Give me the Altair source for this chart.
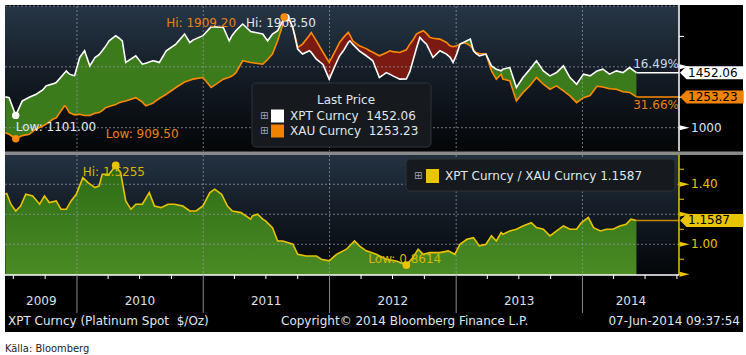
import altair as alt
import pandas as pd

FONT = "DejaVu Sans"

# ---------------- data ----------------
top_dates = [
    "2009-06-08", "2009-06-19", "2009-07-08", "2009-07-27", "2009-08-16", "2009-09-05", "2009-09-24",
    "2009-10-04", "2009-10-23", "2009-11-02", "2009-11-26", "2009-12-01", "2009-12-10", "2009-12-25",
    "2010-01-09", "2010-01-23", "2010-02-07", "2010-02-22", "2010-03-06", "2010-03-15", "2010-03-25",
    "2010-04-04", "2010-04-23", "2010-05-03", "2010-05-12", "2010-05-22", "2010-06-20", "2010-07-09",
    "2010-07-19", "2010-08-08", "2010-08-17", "2010-08-27", "2010-09-16", "2010-10-14", "2010-11-08",
    "2010-11-23", "2010-12-02", "2010-12-31", "2011-01-24", "2011-02-28", "2011-03-17", "2011-03-26",
    "2011-04-05", "2011-04-25", "2011-05-18", "2011-06-22", "2011-07-06", "2011-07-20", "2011-08-04",
    "2011-08-19", "2011-08-23", "2011-08-28", "2011-09-08", "2011-09-17", "2011-09-22", "2011-10-01",
    "2011-10-15", "2011-11-04", "2011-11-09", "2011-11-24", "2011-12-13", "2011-12-31", "2012-01-21",
    "2012-01-30", "2012-02-10", "2012-02-24", "2012-02-29", "2012-03-08", "2012-03-27", "2012-04-16",
    "2012-04-26", "2012-05-05", "2012-05-24", "2012-06-13", "2012-06-23", "2012-07-02", "2012-07-22",
    "2012-08-10", "2012-08-20", "2012-08-29", "2012-09-08", "2012-09-18", "2012-09-28", "2012-10-07",
    "2012-10-17", "2012-10-26", "2012-11-15", "2012-12-04", "2012-12-14", "2012-12-23", "2013-01-02",
    "2013-01-12", "2013-01-22", "2013-02-01", "2013-02-11", "2013-02-20", "2013-02-27", "2013-03-09",
    "2013-03-28", "2013-04-13", "2013-04-27", "2013-05-11", "2013-05-16", "2013-06-05", "2013-06-24",
    "2013-07-13", "2013-08-02", "2013-08-21", "2013-09-10", "2013-09-29", "2013-10-18", "2013-11-07",
    "2013-11-26", "2013-12-15", "2014-01-04", "2014-01-23", "2014-02-12", "2014-03-01", "2014-03-20",
    "2014-04-09", "2014-04-28", "2014-05-17", "2014-06-06",
]
xpt_values = [
    1253, 1247, 1101, 1220, 1250, 1275, 1310,
    1344, 1360, 1371, 1450, 1467, 1440, 1426,
    1577, 1632, 1508, 1577, 1600, 1632, 1670,
    1714, 1756, 1735, 1714, 1536, 1591, 1522,
    1530, 1550, 1545, 1536, 1632, 1687, 1770,
    1700, 1720, 1756, 1830, 1824, 1714, 1760,
    1797, 1852, 1790, 1770, 1714, 1770, 1797,
    1880, 1895, 1903.5, 1879, 1824, 1760, 1646,
    1605, 1632, 1620, 1563, 1520, 1399, 1536,
    1590, 1632, 1700, 1714, 1687, 1632, 1591,
    1570, 1550, 1412, 1453, 1440, 1426, 1399,
    1399.5, 1460, 1550, 1650, 1742, 1710, 1687,
    1630, 1577, 1632, 1605, 1580, 1536, 1600,
    1687, 1700, 1714, 1728, 1632, 1610, 1591,
    1605, 1508, 1481, 1467, 1481, 1494, 1330,
    1412, 1481, 1550, 1467, 1426, 1453, 1508,
    1412, 1357, 1440, 1426, 1467, 1481, 1440,
    1467, 1453, 1494, 1452.06,
]
xau_values = [
    959, 946, 909.5, 935, 946, 990, 1014,
    1030, 1069, 1080, 1179, 1170, 1124, 1105,
    1110, 1100, 1100, 1118, 1124, 1140, 1165,
    1175, 1190, 1206, 1214, 1220, 1247, 1210,
    1179, 1200, 1220, 1240, 1275, 1330, 1375,
    1390, 1399, 1412, 1330, 1399, 1415, 1426,
    1450, 1550, 1536, 1522, 1560, 1605, 1714,
    1850, 1909.2, 1895, 1893, 1810, 1770, 1659,
    1687, 1760, 1783, 1714, 1620, 1536, 1650,
    1700, 1740, 1783, 1760, 1714, 1673, 1650,
    1632, 1620, 1591, 1615, 1632, 1625, 1618,
    1640, 1687, 1720, 1770, 1785, 1797, 1775,
    1742, 1735, 1728, 1700, 1673, 1665, 1673,
    1685, 1700, 1690, 1673, 1640, 1618, 1610,
    1605, 1467, 1399, 1440, 1399, 1385, 1220,
    1288, 1344, 1412, 1357, 1316, 1344, 1302,
    1261, 1206, 1247, 1265, 1340, 1335, 1320,
    1316, 1295, 1290, 1253.23,
]

ratio_dates = [
    "2009-06-08", "2009-06-12", "2009-06-24", "2009-07-08", "2009-07-22", "2009-08-06", "2009-08-26",
    "2009-09-15", "2009-09-29", "2009-10-13", "2009-11-02", "2009-11-16", "2009-12-01", "2009-12-15",
    "2009-12-30", "2010-01-18", "2010-02-02", "2010-02-22", "2010-03-06", "2010-03-15", "2010-04-04",
    "2010-04-23", "2010-05-07", "2010-05-22", "2010-06-06", "2010-06-20", "2010-07-09", "2010-07-29",
    "2010-08-13", "2010-09-01", "2010-09-21", "2010-10-10", "2010-11-03", "2010-11-23", "2010-12-11",
    "2010-12-31", "2011-01-20", "2011-02-03", "2011-02-23", "2011-03-12", "2011-03-26", "2011-04-20",
    "2011-05-18", "2011-05-23", "2011-06-07", "2011-06-22", "2011-06-30", "2011-07-20", "2011-08-04",
    "2011-08-19", "2011-09-17", "2011-10-01", "2011-10-25", "2011-11-24", "2011-12-08", "2011-12-31",
    "2012-01-21", "2012-02-19", "2012-03-13", "2012-03-27", "2012-04-16", "2012-05-15", "2012-06-13",
    "2012-07-12", "2012-08-10", "2012-08-29", "2012-09-13", "2012-09-28", "2012-10-17", "2012-11-15",
    "2012-12-09", "2012-12-28", "2013-01-12", "2013-02-01", "2013-02-20", "2013-03-09", "2013-03-28",
    "2013-04-13", "2013-04-27", "2013-05-11", "2013-05-16", "2013-06-05", "2013-06-24", "2013-07-13",
    "2013-08-06", "2013-08-21", "2013-09-10", "2013-09-29", "2013-10-18", "2013-11-07", "2013-11-26",
    "2013-12-15", "2013-12-29", "2014-01-18", "2014-02-02", "2014-02-22", "2014-03-11", "2014-03-30",
    "2014-04-19", "2014-05-07", "2014-05-21", "2014-06-06",
]
ratio_values = [
    1.333, 1.338, 1.267, 1.222, 1.255, 1.333, 1.322,
    1.267, 1.322, 1.278, 1.289, 1.233, 1.233, 1.289,
    1.333, 1.444, 1.411, 1.378, 1.389, 1.467, 1.467,
    1.5255, 1.478, 1.289, 1.233, 1.267, 1.267, 1.344,
    1.255, 1.244, 1.267, 1.267, 1.255, 1.222, 1.222,
    1.255, 1.344, 1.367, 1.333, 1.255, 1.222, 1.211,
    1.167, 1.189, 1.200, 1.167, 1.156, 1.111, 1.022,
    1.022, 1.000, 0.933, 0.922, 0.922, 0.900, 0.889,
    0.933, 0.967, 1.022, 0.989, 0.956, 0.933, 0.900,
    0.889, 0.8614, 0.911, 0.967, 0.933, 0.944, 0.944,
    0.956, 0.933, 1.000, 1.033, 1.044, 0.989, 1.000,
    1.056, 1.022, 1.078, 1.067, 1.089, 1.100, 1.122,
    1.144, 1.111, 1.100, 1.056, 1.089, 1.122, 1.100,
    1.100, 1.144, 1.178, 1.111, 1.089, 1.100, 1.100,
    1.122, 1.133, 1.167, 1.1587,
]

top_grid_values = [1000, 1500, 2000]
top_major_ticks = [1000, 1500]
top_minor_ticks = [1250, 1750]
top_axis_labels = [1000]
bot_grid_values = [1.0, 1.2, 1.4]
bot_major_ticks = [0.8, 1.0, 1.2, 1.4]
bot_minor_ticks = [0.9, 1.1, 1.3, 1.5]
bot_axis_labels = [1.0, 1.4]
year_starts = ["2010-01-01", "2011-01-01", "2012-01-01", "2013-01-01", "2014-01-01"]
quarter_ticks = [
    "2009-07-01", "2009-10-01", "2010-04-01", "2010-07-01", "2010-10-01", "2011-04-01",
    "2011-07-01", "2011-10-01", "2012-04-01", "2012-07-01", "2012-10-01", "2013-04-01",
    "2013-07-01", "2013-10-01", "2014-04-01", "2014-07-01", "2014-10-01",
]
year_labels = ["2009", "2010", "2011", "2012", "2013", "2014"]
year_label_dates = ["2009-09-20", "2010-07-02", "2011-07-02", "2012-07-02", "2013-07-02", "2014-05-21"]
xpt_change = "16.49%"
xau_change = "31.66%"

# ---------------- frames ----------------
top_df = pd.DataFrame({"date": top_dates, "xpt": xpt_values, "xau": xau_values})
ratio_df = pd.DataFrame({"date": ratio_dates, "ratio": ratio_values})
one = pd.DataFrame({"k": [0]})

W = 674
H_TOP = 145
H_BOT = 120

xscale = alt.Scale(domain=[alt.DateTime(year=2009, month=6, date=7, utc=True),
                           alt.DateTime(year=2014, month=10, date=7, utc=True)], nice=False)
ytop = alt.Scale(domain=[808.5, 2000], zero=False, nice=False)
ybot = alt.Scale(domain=[0.795, 1.595], zero=False, nice=False)


def xd(field="date"):
    return alt.X(f"{field}:T", scale=xscale, axis=None)


def yt(field):
    return alt.Y(f"{field}:Q", scale=ytop, axis=None, stack=None)


def yb(field):
    return alt.Y(f"{field}:Q", scale=ybot, axis=None, stack=None)


def rect(x, x2, y, y2, **kw):
    return alt.Chart(one).mark_rect(**kw).encode(
        x=alt.value(x), x2=alt.value(x2), y=alt.value(y), y2=alt.value(y2))


def label(txt, x, y, **kw):
    p = dict(font=FONT, fontSize=12, baseline="middle", align="left", color="#dfe7ef")
    p.update(kw)
    return alt.Chart(one).mark_text(text=txt, **p).encode(x=alt.value(x), y=alt.value(y))


def grad(stops):
    return alt.LinearGradient(gradient="linear", x1=0, y1=0, x2=0, y2=1,
                              stops=[alt.GradientStop(offset=o, color=c) for o, c in stops])


GRID = dict(color="#8d97a1", strokeDash=[2, 2], strokeWidth=1, opacity=0.75)
TAG_PATH = "M -1 0 L 0 -1 L 8.8 -1 L 8.8 1 L 0 1 Z"
WEDGE = "M 0 -0.5 L 2 0 L 0 0.5 Z"

last = top_df.iloc[[-1]].reset_index(drop=True)
rlast = ratio_df.iloc[[-1]].reset_index(drop=True)


def extreme(df, col, fn, prefix, fmt):
    i = getattr(df[col], fn)()
    v = df[col][i]
    return pd.DataFrame({"date": [df["date"][i]], "v": [v], "label": [prefix + fmt.format(v)]})


xpt_lo = extreme(top_df, "xpt", "idxmin", "Low: ", "{:.2f}")
xau_lo = extreme(top_df, "xau", "idxmin", "Low: ", "{:.2f}")
xpt_hi = extreme(top_df, "xpt", "idxmax", "Hi: ", "{:.2f}")
xau_hi = extreme(top_df, "xau", "idxmax", "Hi: ", "{:.2f}")
r_hi = extreme(ratio_df, "ratio", "idxmax", "Hi: ", "{:.4f}")
r_lo = extreme(ratio_df, "ratio", "idxmin", "Low: ", "{:.4f}")

WHITE_T = "#e2e9f1"
ORANGE_L = "#ff8a00"
ORANGE_T = "#ec8210"
YELLOW = "#e9c400"

# ---------------- top panel ----------------
base_top = alt.Chart(top_df).transform_calculate(hi="max(datum.xpt, datum.xau)")

top_layers = [
    rect(0, 738, -1, 326, fill="#000000"),
    rect(0, 738, 145.5, 149, fill="#8a8a8a"),
    rect(0, W, 0, H_TOP, fill=grad([(0, "#263646"), (0.5, "#131b24"), (1, "#040608")])),
    base_top.mark_area(color="#3b7b1c").encode(x=xd(), y=yt("xau"), y2="hi:Q"),
    base_top.mark_area(color="#7b1a12").encode(x=xd(), y=yt("xpt"), y2="hi:Q"),
    alt.Chart(pd.DataFrame({"v": top_grid_values})).mark_rule(**GRID).encode(
        y=yt("v"), x=alt.value(0), x2=alt.value(W)),
    alt.Chart(pd.DataFrame({"date": year_starts})).mark_rule(**GRID).encode(
        x=xd(), y=alt.value(0), y2=alt.value(H_TOP)),
    alt.Chart(top_df).mark_line(color=ORANGE_L, strokeWidth=1.6).encode(x=xd(), y=yt("xau")),
    alt.Chart(top_df).mark_line(color="#ffffff", strokeWidth=1.6).encode(x=xd(), y=yt("xpt")),
    alt.Chart(last).mark_rule(color="#ffffff", strokeWidth=1.5).encode(
        x=xd(), x2=alt.value(W), y=yt("xpt")),
    alt.Chart(last).mark_rule(color=ORANGE_L, strokeWidth=1.5).encode(
        x=xd(), x2=alt.value(W), y=yt("xau")),
    alt.Chart(one).mark_rule(color="#ffffff", strokeWidth=1.5).encode(
        x=alt.value(W), y=alt.value(-1), y2=alt.value(H_TOP)),
    alt.Chart(pd.DataFrame({"v": top_major_ticks})).mark_point(
        shape=WEDGE, size=100, filled=True, color="#ffffff", opacity=1).encode(
        x=alt.value(W + 0.5), y=yt("v")),
    alt.Chart(pd.DataFrame({"v": top_minor_ticks})).mark_rule(color="#ffffff").encode(
        x=alt.value(W), x2=alt.value(W + 5), y=yt("v")),
    alt.Chart(pd.DataFrame({"v": top_axis_labels})).mark_text(
        font=FONT, fontSize=12, align="left", baseline="middle", color="#dbe6f2").encode(
        x=alt.value(686), y=yt("v"), text=alt.Text("v:Q", format="d")),
    # last value tags
    alt.Chart(last).mark_point(shape=TAG_PATH, size=169, filled=True, color="#ffffff", opacity=1).encode(
        x=alt.value(681.5), y=yt("xpt")),
    alt.Chart(last).mark_text(font=FONT, fontSize=12, align="left", baseline="middle", color="#000000").encode(
        x=alt.value(683), y=yt("xpt"), text=alt.Text("xpt:Q", format=".2f")),
    alt.Chart(last).mark_point(shape=TAG_PATH, size=169, filled=True, color="#f38200", opacity=1).encode(
        x=alt.value(681.5), y=yt("xau")),
    alt.Chart(last).mark_text(font=FONT, fontSize=12, align="left", baseline="middle", color="#000000").encode(
        x=alt.value(683), y=yt("xau"), text=alt.Text("xau:Q", format=".2f")),
    # change labels
    alt.Chart(last).mark_text(text=xpt_change, font=FONT, fontSize=12, align="right", baseline="middle",
                              dy=-9, color="#cbd7e3").encode(x=alt.value(W), y=yt("xpt")),
    alt.Chart(last).mark_text(text=xau_change, font=FONT, fontSize=12, align="right", baseline="middle",
                              dy=8.5, color=ORANGE_T).encode(x=alt.value(W), y=yt("xau")),
    # hi / low annotations
    alt.Chart(xpt_lo).mark_text(font=FONT, fontSize=12, align="left", baseline="middle", dx=0, dy=11.5,
                                color=WHITE_T).encode(x=xd(), y=yt("v"), text="label:N"),
    alt.Chart(xau_lo).mark_text(font=FONT, fontSize=12, align="left", baseline="middle", dx=90, dy=-4.5,
                                color=ORANGE_T).encode(x=xd(), y=yt("v"), text="label:N"),
    alt.Chart(xau_hi).mark_text(font=FONT, fontSize=12, align="left", baseline="middle", dx=-118, dy=6,
                                color=ORANGE_T).encode(x=xd(), y=yt("v"), text="label:N"),
    alt.Chart(xpt_hi).mark_text(font=FONT, fontSize=12, align="left", baseline="middle", dx=-40, dy=5.5,
                                color=WHITE_T).encode(x=xd(), y=yt("v"), text="label:N"),
    alt.Chart(xpt_lo).mark_point(filled=True, size=55, color="#ffffff", opacity=1).encode(x=xd(), y=yt("v")),
    alt.Chart(xau_lo).mark_point(filled=True, size=55, color=ORANGE_L, opacity=1).encode(x=xd(), y=yt("v")),
    alt.Chart(xpt_hi).mark_point(filled=True, size=60, color="#ffffff", opacity=1).encode(x=xd(), y=yt("v")),
    alt.Chart(xau_hi).mark_point(filled=True, size=60, color=ORANGE_L, opacity=1).encode(x=xd(), y=yt("v")),
    # legend box
    rect(247, 426, 77, 141, fill="#16191d", stroke="#2e3339", strokeWidth=1, cornerRadius=4),
    label("Last Price", 341, 94, align="center"),
    label("\u229e", 255, 110, fontSize=10, color="#a0a6ac"),
    rect(266, 279, 103.5, 116.5, fill="#ffffff"),
    label("XPT Curncy\u00a0 " + f"{xpt_values[-1]:.2f}", 285, 110),
    label("\u229e", 255, 125, fontSize=10, color="#a0a6ac"),
    rect(266, 279, 118.5, 131.5, fill="#f38200"),
    label("XAU Curncy\u00a0 " + f"{xau_values[-1]:.2f}", 285, 125),
]
top = alt.layer(*top_layers).properties(width=W, height=H_TOP)

# ---------------- bottom panel ----------------
bot_layers = [
    rect(0, W, 0, H_BOT, fill=grad([(0, "#233242"), (0.5, "#121a23"), (1, "#040608")])),
    alt.Chart(ratio_df).mark_area(color=grad([(0, "#2e6b15"), (1, "#4a8b24")])).encode(
        x=xd(), y=yb("ratio"), y2=alt.value(H_BOT)),
    alt.Chart(pd.DataFrame({"v": bot_grid_values})).mark_rule(**GRID).encode(
        y=yb("v"), x=alt.value(0), x2=alt.value(W)),
    alt.Chart(pd.DataFrame({"date": year_starts})).mark_rule(**GRID).encode(
        x=xd(), y=alt.value(0), y2=alt.value(H_BOT)),
    alt.Chart(ratio_df).mark_line(color=YELLOW, strokeWidth=1.6).encode(x=xd(), y=yb("ratio")),
    alt.Chart(rlast).mark_rule(color="#c8860a", strokeWidth=1.5).encode(
        x=xd(), x2=alt.value(W), y=yb("ratio")),
    alt.Chart(one).mark_rule(color=YELLOW, strokeWidth=1.5).encode(
        x=alt.value(W), y=alt.value(0), y2=alt.value(H_BOT)),
    alt.Chart(pd.DataFrame({"v": bot_major_ticks})).mark_point(
        shape=WEDGE, size=100, filled=True, color=YELLOW, opacity=1).encode(
        x=alt.value(W + 0.5), y=yb("v")),
    alt.Chart(pd.DataFrame({"v": bot_minor_ticks})).mark_rule(color=YELLOW).encode(
        x=alt.value(W), x2=alt.value(W + 5), y=yb("v")),
    alt.Chart(pd.DataFrame({"v": bot_axis_labels})).mark_text(
        font=FONT, fontSize=12, align="left", baseline="middle", color=YELLOW).encode(
        x=alt.value(686), y=yb("v"), text=alt.Text("v:Q", format=".2f")),
    alt.Chart(rlast).mark_point(shape=TAG_PATH, size=169, filled=True, color=YELLOW, opacity=1).encode(
        x=alt.value(681.5), y=yb("ratio")),
    alt.Chart(rlast).mark_text(font=FONT, fontSize=12, align="left", baseline="middle", color="#000000").encode(
        x=alt.value(683), y=yb("ratio"), text=alt.Text("ratio:Q", format=".4f")),
    # hi / low
    alt.Chart(r_hi).mark_text(font=FONT, fontSize=12, align="left", baseline="middle", dx=-33, dy=6.5,
                              color="#d8b800").encode(x=xd(), y=yb("v"), text="label:N"),
    alt.Chart(r_lo).mark_text(font=FONT, fontSize=12, align="left", baseline="middle", dx=-38, dy=-6,
                              color="#d8b800").encode(x=xd(), y=yb("v"), text="label:N"),
    alt.Chart(r_hi).mark_point(filled=True, size=60, color=YELLOW, opacity=1).encode(x=xd(), y=yb("v")),
    alt.Chart(r_lo).mark_point(filled=True, size=60, color=YELLOW, opacity=1).encode(x=xd(), y=yb("v")),
    # legend
    rect(401, 670, 4, 36, fill="#16191d", stroke="#2e3339", strokeWidth=1, cornerRadius=4),
    label("\u229e", 409, 21, fontSize=10, color="#a0a6ac"),
    rect(421, 434, 14, 28, fill=YELLOW),
    label("XPT Curncy / XAU Curncy " + f"{ratio_values[-1]:.4f}", 440, 21),
    # x axis
    alt.Chart(one).mark_rule(color="#ffffff", strokeWidth=1.5).encode(
        x=alt.value(0), x2=alt.value(W), y=alt.value(H_BOT)),
    alt.Chart(pd.DataFrame({"date": quarter_ticks})).mark_rule(color="#ffffff").encode(
        x=xd(), y=alt.value(H_BOT), y2=alt.value(H_BOT + 4)),
    alt.Chart(pd.DataFrame({"date": year_starts})).mark_rule(color="#8a8a8a").encode(
        x=xd(), y=alt.value(H_BOT), y2=alt.value(H_BOT + 38)),
    alt.Chart(pd.DataFrame({"date": year_label_dates, "label": year_labels})).mark_text(
        font=FONT, fontSize=12, align="center", baseline="middle", color="#d9e1ea").encode(
        x=xd(), y=alt.value(H_BOT + 26), text="label:N"),
    # footer
    label("XPT Curncy (Platinum Spot\u00a0 $/Oz)", 3, 166),
    label("Copyright\u00a9 2014 Bloomberg Finance L.P.", 276, 166),
    label("07-Jun-2014 09:37:54", 735, 166, align="right"),
    label("K\u00e4lla: Bloomberg", 0, 194, fontSize=11, color="#222222",
          font="Liberation Sans Narrow, DejaVu Sans Condensed, sans-serif"),
]
bottom = alt.layer(*bot_layers).properties(width=W, height=H_BOT)

chart = alt.vconcat(top, bottom, spacing=4, bounds="flush").properties(
    padding={"left": 2, "top": 4, "right": 0, "bottom": 0},
    background="#ffffff",
).configure_view(strokeWidth=0)

chart.save("out.html", embed_options={"renderer": "svg", "actions": False})
